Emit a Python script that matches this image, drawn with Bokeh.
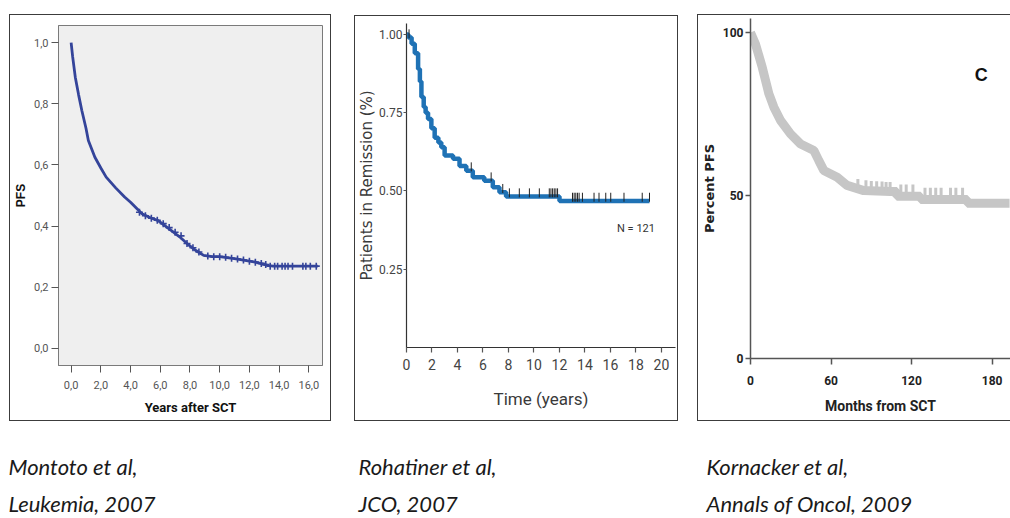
from math import pi
from bokeh.plotting import figure
from bokeh.layouts import row, column
from bokeh.models import Range1d, FixedTicker, ColumnDataSource
from bokeh.core.properties import value
from bokeh.embed import file_html
from bokeh.resources import INLINE

NARROW = "Roboto"

# ---------------- Panel A: Montoto et al ----------------
a_years = [0, 0.1, 0.28, 0.5, 0.72, 1.0, 1.16, 1.6, 2.0, 2.36, 3.0, 3.6, 4.0, 4.77,
           5.3, 5.86, 6.73, 7.3, 7.82, 8.4, 8.92, 9.5, 10.0, 11.1, 12.4, 13.3, 13.6, 16.6]
a_pfs = [1.0, 0.955, 0.887, 0.83, 0.778, 0.72, 0.68, 0.625, 0.59, 0.56, 0.525, 0.495, 0.478, 0.44,
         0.428, 0.418, 0.386, 0.365, 0.342, 0.32, 0.304, 0.300, 0.300, 0.293, 0.282, 0.271, 0.269, 0.269]
a_cens_years = [4.6, 5.0, 5.4, 5.8, 6.2, 6.6, 7.0, 7.4, 7.8, 8.2, 8.6, 9.2, 9.6, 10.0, 10.4, 10.8,
                11.2, 11.6, 12.0, 12.4, 12.8, 13.1, 13.4, 13.7, 13.9, 14.2, 14.4, 14.6, 14.9,
                15.6, 15.8, 16.1, 16.5]
a_cens_pfs = [0.445, 0.434, 0.426, 0.419, 0.408, 0.395, 0.380, 0.368, 0.343, 0.329, 0.315, 0.302,
              0.300, 0.300, 0.298, 0.295, 0.292, 0.289, 0.285, 0.282, 0.278, 0.274, 0.269, 0.269,
              0.269, 0.269, 0.269, 0.269, 0.269, 0.269, 0.269, 0.269, 0.269]
a_xticks = [0, 2, 4, 6, 8, 10, 12, 14, 16]
a_xlabels = ["0,0", "2,0", "4,0", "6,0", "8,0", "10,0", "12,0", "14,0", "16,0"]
a_yticks = [0.0, 0.2, 0.4, 0.6, 0.8, 1.0]
a_ylabels = ["0,0", "0,2", "0,4", "0,6", "0,8", "1,0"]
a_xtitle = "Years after SCT"
a_ytitle = "PFS"

# ---------------- Panel B: Rohatiner et al ----------------
b_years = [0, 0.15, 0.4, 0.65, 0.91, 1.05, 1.17, 1.35, 1.5, 1.69, 1.95, 2.21, 2.5, 2.73, 2.99,
           3.65, 4.16, 4.69, 5.2, 6.1, 6.77, 7.29, 7.81, 12.0, 19.06]
b_surv = [1.0, 0.99, 0.97, 0.94, 0.89, 0.85, 0.80, 0.768, 0.75, 0.73, 0.70, 0.67, 0.655, 0.64, 0.613,
          0.603, 0.58, 0.565, 0.544, 0.533, 0.512, 0.496, 0.482, 0.468, 0.468]
b_cens_years = [0.2, 5.08, 6.64, 7.55, 8.07, 8.85, 9.64, 10.42, 11.2, 11.33, 11.46, 11.59, 11.72,
                11.85, 13.02, 13.15, 13.28, 13.41, 13.54, 13.8, 14.71, 15.1, 15.63, 16.02, 17.06,
                18.49, 19.06]
b_cens_surv = [0.99, 0.565, 0.533, 0.496, 0.482, 0.482, 0.482, 0.482, 0.482, 0.482, 0.482, 0.482,
               0.482, 0.482, 0.468, 0.468, 0.468, 0.468, 0.468, 0.468, 0.468, 0.468, 0.468, 0.468,
               0.468, 0.468, 0.468]
b_xticks = [0, 2, 4, 6, 8, 10, 12, 14, 16, 18, 20]
b_yticks = [0.25, 0.5, 0.75, 1.0]
b_ylabels = ["0.25", "0.50", "0.75", "1.00"]
b_note = "N = 121"
b_xtitle = "Time (years)"
b_ytitle = "Patients in Remission (%)"

# ---------------- Panel C: Kornacker et al ----------------
c_months = [0, 3.7, 8.7, 13.7, 17.4, 22.4, 29.8, 37.3, 47.2, 50.9, 54.6, 64.6, 72, 84.4, 104.3,
            109, 109, 126.7, 126.7, 161.5, 161.5, 193]
c_pfs = [100, 96.5, 89.4, 81.2, 77.1, 73, 68.9, 65.8, 63.8, 60.7, 57.7, 55.6, 53.1, 51.5, 51.2,
         51.2, 49.8, 49.8, 48.8, 48.8, 47.6, 47.6]
c_cens_months = [80, 86, 90, 94, 98, 101, 104, 112, 116, 121, 130, 134, 138, 142, 149, 153, 158]
c_cens_pfs = [52.2, 51.8, 51.6, 51.5, 51.4, 51.3, 51.3, 50.5, 50.5, 50.5, 49.5, 49.5, 49.5, 49.5,
              49.5, 49.5, 49.5]
c_xticks = [0, 60, 120, 180]
c_yticks = [0, 50, 100]
c_tag = "C"
c_xtitle = "Months from SCT"
c_ytitle = "Percent PFS"

captions_left = ["Montoto et al,", "Rohatiner et al,", "Kornacker et al,"]
captions_right = ["Leukemia, 2007", "JCO, 2007", "Annals of Oncol, 2009"]

BOX = {"outline": "1px solid #3c3c3c", "outline-offset": "0px"}


def base(width, height, xr, yr, margin, mins):
    p = figure(width=width, height=height, x_range=xr, y_range=yr,
               output_backend="svg", toolbar_location=None, styles=BOX,
               min_border_top=mins[0], min_border_right=mins[1],
               min_border_bottom=mins[2], min_border_left=mins[3])
    p.grid.visible = False
    p.border_fill_color = "white"
    return column(p, margin=margin), p


def style_axes(p, color, tick_color, tick_out, font_size, font_style, label_color, line_width=1.0):
    for ax in (p.xaxis[0], p.yaxis[0]):
        ax.axis_line_color = color
        ax.axis_line_width = line_width
        ax.major_tick_line_color = tick_color
        ax.major_tick_line_width = line_width
        ax.major_tick_out = tick_out
        ax.major_tick_in = 0
        ax.minor_tick_line_color = None
        ax.major_label_text_font = NARROW
        ax.major_label_text_font_size = font_size
        ax.major_label_text_font_style = font_style
        ax.major_label_text_color = label_color


def axis_title(ax, text, font, size, style, color, standoff):
    ax.axis_label = text
    ax.axis_label_text_font = font
    ax.axis_label_text_font_size = size
    ax.axis_label_text_font_style = style
    ax.axis_label_text_color = color
    ax.axis_label_standoff = standoff


# ---- Panel A ----
wa, pa = base(320, 405, Range1d(-0.85, 16.92), Range1d(-0.056, 1.056), (15, 0, 10, 10), (10, 8, 55, 41))
pa.background_fill_color = "#efefef"
pa.outline_line_color = "#7a7a7a"
pa.line(a_years, a_pfs, line_color="#34449a", line_width=2.8)
pa.scatter(a_cens_years, a_cens_pfs, marker="cross", size=7, line_color="#34449a", line_width=1.6)
style_axes(pa, "#7a7a7a", "#555555", 7, "11px", "normal", "#555555")
pa.xaxis.ticker = FixedTicker(ticks=a_xticks)
pa.xaxis.major_label_overrides = {t: l for t, l in zip(a_xticks, a_xlabels)}
pa.yaxis.ticker = FixedTicker(ticks=a_yticks)
pa.yaxis.major_label_overrides = {t: l for t, l in zip(a_yticks, a_ylabels)}
pa.xaxis.major_label_standoff = 8
pa.yaxis.major_label_standoff = 3
axis_title(pa.xaxis[0], a_xtitle, NARROW, "13px", "bold", "#111111", 8)
axis_title(pa.yaxis[0], a_ytitle, "Liberation Sans", "12px", "bold", "#111111", 3)

# ---- Panel B ----
wb, pb = base(322, 404, Range1d(0, 21.1), Range1d(0, 1.035), (16, 0, 10, 25), (7, 2, 73, 50))
pb.outline_line_color = None
pb.step(b_years, b_surv, mode="after", line_color="#1f72b5", line_width=4.5)
pb.scatter(b_cens_years, [s + 0.012 for s in b_cens_surv], marker="dash", angle=pi / 2,
           size=9, line_color="#222222", line_width=1)
pb.text(x=[18.0], y=[0.38], text=[b_note], text_font=value(NARROW), text_font_size="11px",
        text_color="#333333", text_align="center", text_baseline="middle")
style_axes(pb, "#333333", "#555555", 3, "12px", "normal", "#444444", 1.2)
pb.xaxis.major_tick_out = 5
pb.xaxis.major_label_text_font_size = "14px"
pb.xaxis.ticker = FixedTicker(ticks=b_xticks)
pb.yaxis.ticker = FixedTicker(ticks=b_yticks)
pb.yaxis.major_label_overrides = {t: l for t, l in zip(b_yticks, b_ylabels)}
pb.xaxis.major_label_standoff = 6
pb.yaxis.major_label_standoff = 1
axis_title(pb.xaxis[0], b_xtitle, NARROW, "17px", "normal", "#3a3a3a", 16)
axis_title(pb.yaxis[0], b_ytitle, "DejaVu Sans", "15px", "normal", "#3a3a3a", 0)

# ---- Panel C ----
wc, pc = base(312, 405, Range1d(0, 193.7), Range1d(0, 104.3), (15, 0, 10, 21), (3, 0, 62, 52))
pc.outline_line_color = None
pc.line(c_months, c_pfs, line_color="#c6c6c6", line_width=9)
pc.scatter(c_cens_months, [v + 1.5 for v in c_cens_pfs], marker="dash", angle=pi / 2,
           size=9, line_color="#c6c6c6", line_width=3)
pc.text(x=[172], y=[87], text=[c_tag], text_font=value("Liberation Sans"), text_font_size="18px",
        text_font_style="bold", text_color="#111111", text_align="center", text_baseline="middle")
style_axes(pc, "#555555", "#555555", 5, "12px", "bold", "#222222", 1.5)
pc.xaxis.major_tick_out = 6
pc.xaxis.ticker = FixedTicker(ticks=c_xticks)
pc.yaxis.ticker = FixedTicker(ticks=c_yticks)
pc.xaxis.major_label_standoff = 11
pc.yaxis.major_label_standoff = 2
axis_title(pc.xaxis[0], c_xtitle, NARROW, "14px", "bold", "#222222", 10)
axis_title(pc.yaxis[0], c_ytitle, "DejaVu Sans", "13px", "bold", "#222222", 3)

# ---- Captions ----
cap = figure(width=1010, height=88, x_range=Range1d(0, 1010), y_range=Range1d(88, 0),
             output_backend="svg", toolbar_location=None, min_border=0)
cap.axis.visible = False
cap.grid.visible = False
cap.outline_line_color = None
cap_x = [8, 358, 706]
src = ColumnDataSource(dict(x=cap_x + cap_x, y=[36] * 3 + [73] * 3,
                            t=captions_left + captions_right))
cap.text(x="x", y="y", text="t", source=src, text_font=value("Lato"), text_font_style="italic",
         text_font_size="22px", text_color="#1a1a1a", text_align="left", text_baseline="middle")

layout = column(row(wa, wb, wc), cap)
open("out.html", "w").write(file_html(layout, INLINE))
